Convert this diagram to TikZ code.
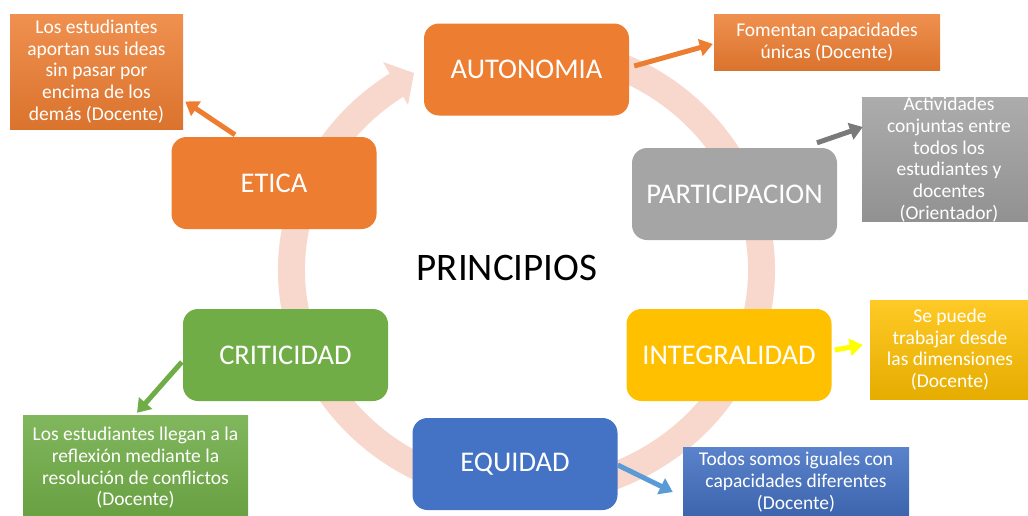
\documentclass[tikz,border=0pt]{standalone}
\usepackage{fontspec}
\setmainfont{Carlito}
\usetikzlibrary{arrows.meta,calc}
\definecolor{orng}{HTML}{ED7D31}
\definecolor{gry}{HTML}{A5A5A5}
\definecolor{gold}{HTML}{FFC000}
\definecolor{blu}{HTML}{4472C4}
\definecolor{grn}{HTML}{70AD47}
\definecolor{ringc}{HTML}{F8D8CC}
\definecolor{garrow}{HTML}{7A7A7A}
\definecolor{barrow}{HTML}{5B9BD5}
\definecolor{yarrow}{HTML}{FFFF00}
\tikzset{
  mainbox/.style={rounded corners=15pt, minimum width=205pt, minimum height=92pt, inner sep=0pt,
    text=white, font=\fontsize{28.5}{33}\selectfont},
  sidebox/.style={rectangle, inner sep=0pt, text=white, align=center,
    font=\fontsize{19.5}{21.7}\selectfont},
  arr/.style={line width=5pt, -{Triangle[length=13pt,width=17pt]}},
}
\begin{document}
\begin{tikzpicture}[x=1pt,y=-1pt]
\useasboundingbox (0,0) rectangle (1028,515);
% ring
\draw[ringc, line width=27pt] (526.5,270) ++(-75:235 and 222) arc[start angle=-75, end angle=238, x radius=235, y radius=222];
\fill[ringc] (383,62) -- (414,73) -- (408,105) -- cycle;
% main nodes
\node[mainbox, fill=orng] (auto) at (526.5,69.5) {AUTONOMIA};
\node[mainbox, fill=gry] (part) at (734.5,194) {PARTICIPACION};
\node[mainbox, fill=gold] (integ) at (729,355) {INTEGRALIDAD};
\node[mainbox, fill=blu] (equi) at (515,464) {EQUIDAD};
\node[mainbox, fill=grn] (crit) at (285.5,355) {CRITICIDAD};
\node[mainbox, fill=orng] (etica) at (274,183) {ETICA};
\node[font=\fontsize{39}{44}\selectfont] (princ) at (507,268) {PRINCIPIOS};
% side boxes
\node[sidebox, minimum width=173pt, minimum height=115pt, top color=orng!85!white, bottom color=orng!92!black] (tl) at (96.5,71.5)
  {Los estudiantes\\aportan sus ideas\\sin pasar por\\encima de los\\demás (Docente)};
\node[sidebox, minimum width=226pt, minimum height=56pt, top color=orng!85!white, bottom color=orng!92!black] (tr) at (827,42)
  {Fomentan capacidades\\únicas (Docente)};
\node[sidebox, minimum width=174pt, minimum height=123pt, top color=gry!92!white, bottom color=gry!88!black] (gb) at (949,159.5)
  {Actividades\\conjuntas entre\\todos los\\estudiantes y\\docentes\\(Orientador)};
\node[sidebox, minimum width=160pt, minimum height=99pt, top color=gold!85!white, bottom color=gold!90!black] (yb) at (950,349.5)
  {Se puede\\trabajar desde\\las dimensiones\\(Docente)};
\node[sidebox, minimum width=226pt, minimum height=70pt, top color=blu!88!white, bottom color=blu!88!black] (bb) at (796,482)
  {Todos somos iguales con\\capacidades diferentes\\(Docente)};
\node[sidebox, minimum width=225pt, minimum height=106pt, top color=grn!88!white, bottom color=grn!92!black] (gr) at (135.5,468)
  {Los estudiantes llegan a la\\reflexión mediante la\\resolución de conflictos\\(Docente)};
% connectors
\draw[arr, orng] ([xshift=-39pt,yshift=2pt]etica.north) -- ([xshift=2pt,yshift=-30pt]tl.east);
\draw[arr, orng] ([xshift=5pt,yshift=3.5pt]auto.east) -- ([xshift=-1pt,yshift=-2pt]tr.west);
\draw[arr, garrow] ([xshift=82.5pt,yshift=5pt]part.north) -- ([xshift=1pt,yshift=32.5pt]gb.west);
\draw[arr, yarrow] ([xshift=3pt,yshift=5pt]integ.east) -- ([xshift=-7pt,yshift=4.5pt]yb.west);
\draw[arr, barrow] ([yshift=-1pt]equi.east) -- ([xshift=-10pt,yshift=-10pt]bb.west);
\draw[arr, grn] ([xshift=-1pt,yshift=-7pt]crit.west) -- ([xshift=1.5pt,yshift=2pt]gr.north);
\end{tikzpicture}
\end{document}
